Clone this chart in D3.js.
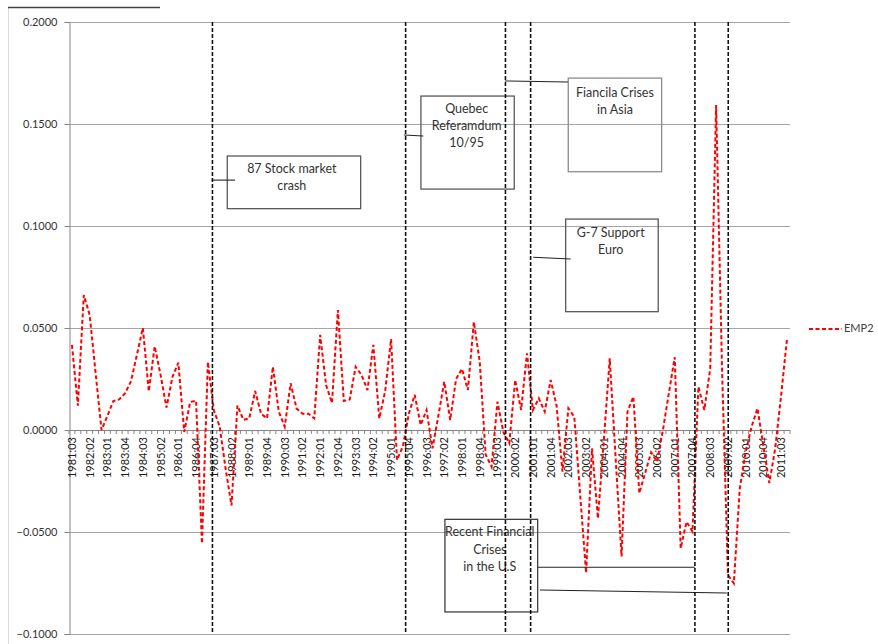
<!DOCTYPE html>
<html><head><meta charset="utf-8">
<script src="https://cdn.jsdelivr.net/npm/d3@7"></script>
<style>body{margin:0;background:#fff;} svg{display:block;font-family:Lato,"Open Sans",sans-serif;}</style>
</head><body><svg id="c" width="878" height="644"></svg>
<script>
// ---- data ----
const categories = [
"1981:03","1981:04","1982:01","1982:02","1982:03","1982:04","1983:01","1983:02","1983:03","1983:04",
"1984:01","1984:02","1984:03","1984:04","1985:01","1985:02","1985:03","1985:04","1986:01","1986:02",
"1986:03","1986:04","1987:01","1987:02","1987:03","1987:04","1988:01","1988:02","1988:03","1988:04",
"1989:01","1989:02","1989:03","1989:04","1990:01","1990:02","1990:03","1990:04","1991:01","1991:02",
"1991:03","1991:04","1992:01","1992:02","1992:03","1992:04","1993:01","1993:02","1993:03","1993:04",
"1994:01","1994:02","1994:03","1994:04","1995:01","1995:02","1995:03","1995:04","1996:01","1996:02",
"1996:03","1996:04","1997:01","1997:02","1997:03","1997:04","1998:01","1998:02","1998:03","1998:04",
"1999:01","1999:02","1999:03","1999:04","2000:01","2000:02","2000:03","2000:04","2001:01","2001:02",
"2001:03","2001:04","2002:01","2002:02","2002:03","2002:04","2003:01","2003:02","2003:03","2003:04",
"2004:01","2004:02","2004:03","2004:04","2005:01","2005:02","2005:03","2005:04","2006:01","2006:02",
"2006:03","2006:04","2007:01","2007:02","2007:03","2007:04","2008:01","2008:02","2008:03","2008:04",
"2009:01","2009:02","2009:03","2009:04","2010:01","2010:02","2010:03","2010:04","2011:01","2011:02",
"2011:03","2011:04"];
const emp2 = [
0.0417,0.0119,0.0662,0.0564,0.028,0.000,0.007,0.0142,0.0150,0.018,
0.024,0.037,0.050,0.019,0.041,0.027,0.011,0.026,0.033,-0.001,
0.0137,0.0144,-0.0556,0.0333,0.0098,0.0016,-0.019,-0.037,0.012,0.005,
0.0057,0.0191,0.008,0.0057,0.031,0.009,0.0016,0.0229,0.0106,0.008,
0.008,0.0057,0.0466,0.022,0.0133,0.0588,0.0142,0.015,0.031,0.027,
0.0196,0.0417,0.0057,0.0191,0.0446,-0.0147,-0.008,0.008,0.0172,0.0025,
0.0098,-0.009,0.007,0.0237,0.0049,0.025,0.030,0.0196,0.053,0.0335,
-0.012,-0.018,0.0139,-0.001,-0.0065,0.0245,0.0098,0.0376,0.0098,0.0155,
0.009,0.0245,0.012,-0.0204,0.0106,0.0065,-0.032,-0.070,-0.009,-0.0433,
-0.005,0.0351,-0.014,-0.062,0.009,0.0163,-0.031,-0.021,-0.011,-0.0155,
0.000,0.018,0.0357,-0.058,-0.045,-0.0498,0.0212,0.0098,0.030,0.1593,
0.030,-0.0711,-0.0752,-0.0286,-0.0106,0.0016,0.0106,-0.008,-0.026,-0.009,
0.017,0.045];
const tickLabels = categories.filter((d,i)=> i % 3 === 0);
const yTicks = [-0.1,-0.05,0,0.05,0.1,0.15,0.2];
const seriesName = "EMP2";
// event lines (category position, fractional)
const eventPos = [23.77, 56.46, 73.35, 77.61, 105.41, 111.05];
const notes = [
  {lines:["87 Stock market","crash"], box:[26.28,48.85,0.1343,0.1085], ty:[0.1275,0.1191], tx:37.2,
   links:[[23.64,0.1225,27.58,0.1225]], stroke:"#595959"},
  {lines:["Quebec","Referamdum","10/95"], box:[59.05,74.84,0.1637,0.1181], ty:[0.1569,0.1487,0.1402], tx:66.79,
   links:[[56.18,0.1446,59.44,0.1441]], stroke:"#595959"},
  {lines:["Fiancila Crises","in Asia"], box:[83.98,99.78,0.1725,0.1266], ty:[0.165,0.1565], tx:91.88,
   links:[[73.27,0.1711,83.93,0.1706]], stroke:"#8c8c8c"},
  {lines:["G-7 Support","Euro"], box:[83.54,99.20,0.1034,0.058], ty:[0.0964,0.0879], tx:91.15,
   links:[[78.05,0.0847,84.38,0.0838]], stroke:"#595959"},
  {lines:["Recent Financial","Crises","in the U.S"], box:[63.11,78.8,-0.0438,-0.0892], ty:[-0.0506,-0.0592,-0.0676], tx:70.7,
   links:[[78.8,-0.0673,105.4,-0.0673],[79.2,-0.0784,110.8,-0.0799]], stroke:"#404040"}
];

// ---- chart ----
const svg = d3.select("#c");
const L = 69, R = 790, T = 22, B = 634;
const x = d3.scaleLinear().domain([-0.5, categories.length - 0.5]).range([L, R]);
const y = d3.scaleLinear().domain([-0.1, 0.2]).range([B, T]);

// outer chart border fragments
svg.append("line").attr("x1",8.5).attr("x2",8.5).attr("y1",8).attr("y2",644).attr("stroke","#d9d9d9");
svg.append("line").attr("x1",8).attr("x2",160).attr("y1",7.5).attr("y2",7.5).attr("stroke","#404040").attr("stroke-width",1.5);

// gridlines
svg.append("g").selectAll("line").data(yTicks).join("line")
  .attr("x1",L).attr("x2",R).attr("y1",d=>Math.round(y(d))+0.5).attr("y2",d=>Math.round(y(d))+0.5)
  .attr("stroke",d=>d===0?"#868686":"#a6a6a6").attr("stroke-width",1);

// y axis
const yAxis = svg.append("g").attr("transform",`translate(${L+0.5},0)`)
  .call(d3.axisLeft(y).tickValues(yTicks).tickFormat(d3.format(".4f")).tickSizeOuter(0).tickSize(5).tickPadding(7));
yAxis.select(".domain").attr("stroke","#868686");
yAxis.selectAll(".tick line").attr("stroke","#868686");
yAxis.selectAll("text").attr("font-size",11).attr("fill","#333").attr("font-family","Lato,'Open Sans',sans-serif");

// x axis minor ticks at category boundaries
const bounds = d3.range(categories.length + 1).map(i => i - 0.5);
svg.append("g").selectAll("line").data(bounds).join("line")
  .attr("x1",d=>x(d)).attr("x2",d=>x(d)).attr("y1",y(0)).attr("y2",y(0)+4)
  .attr("stroke","#868686").attr("stroke-width",1);

// x labels
svg.append("g").selectAll("text").data(tickLabels).join("text")
  .attr("transform",d=>`translate(${x(categories.indexOf(d))+4},${y(0)+7}) rotate(-90)`)
  .attr("text-anchor","end").attr("font-size",11).attr("fill","#1a1a1a").text(d=>d);

// series line
const line = d3.line().x((d,i)=>x(i)).y(d=>y(d));
svg.append("path").datum(emp2).attr("d",line).attr("fill","none")
  .attr("stroke","#ff0000").attr("stroke-width",2).attr("stroke-dasharray","4,2.5");

// annotation boxes
notes.forEach(n => {
  const g = svg.append("g");
  g.append("rect").attr("x",x(n.box[0])).attr("y",y(n.box[2]))
    .attr("width",x(n.box[1])-x(n.box[0])).attr("height",y(n.box[3])-y(n.box[2]))
    .attr("fill","none").attr("stroke",n.stroke).attr("stroke-width",1.3);
  n.lines.forEach((t,k)=> g.append("text").attr("x",x(n.tx)).attr("y",y(n.ty[k]))
    .attr("dominant-baseline","middle").attr("text-anchor","middle")
    .attr("font-size",12.5).attr("fill","#333").text(t));
  n.links.forEach(l => g.append("line").attr("x1",x(l[0])).attr("y1",y(l[1]))
    .attr("x2",x(l[2])).attr("y2",y(l[3])).attr("stroke","#222").attr("stroke-width",1.1));
});

// event lines
svg.append("g").selectAll("line").data(eventPos).join("line")
  .attr("x1",d=>x(d)).attr("x2",d=>x(d)).attr("y1",T).attr("y2",B)
  .attr("stroke","#111").attr("stroke-width",1.6).attr("stroke-dasharray","4,2");

// legend
const lg = svg.append("g").attr("transform","translate(809,329)");
lg.append("line").attr("x1",0).attr("x2",33).attr("y1",0).attr("y2",0)
  .attr("stroke","#ff0000").attr("stroke-width",2).attr("stroke-dasharray","4,2.5");
lg.append("text").attr("x",35).attr("y",0).attr("dominant-baseline","middle")
  .attr("font-size",11).attr("fill","#404040").text(seriesName);
</script></body></html>
